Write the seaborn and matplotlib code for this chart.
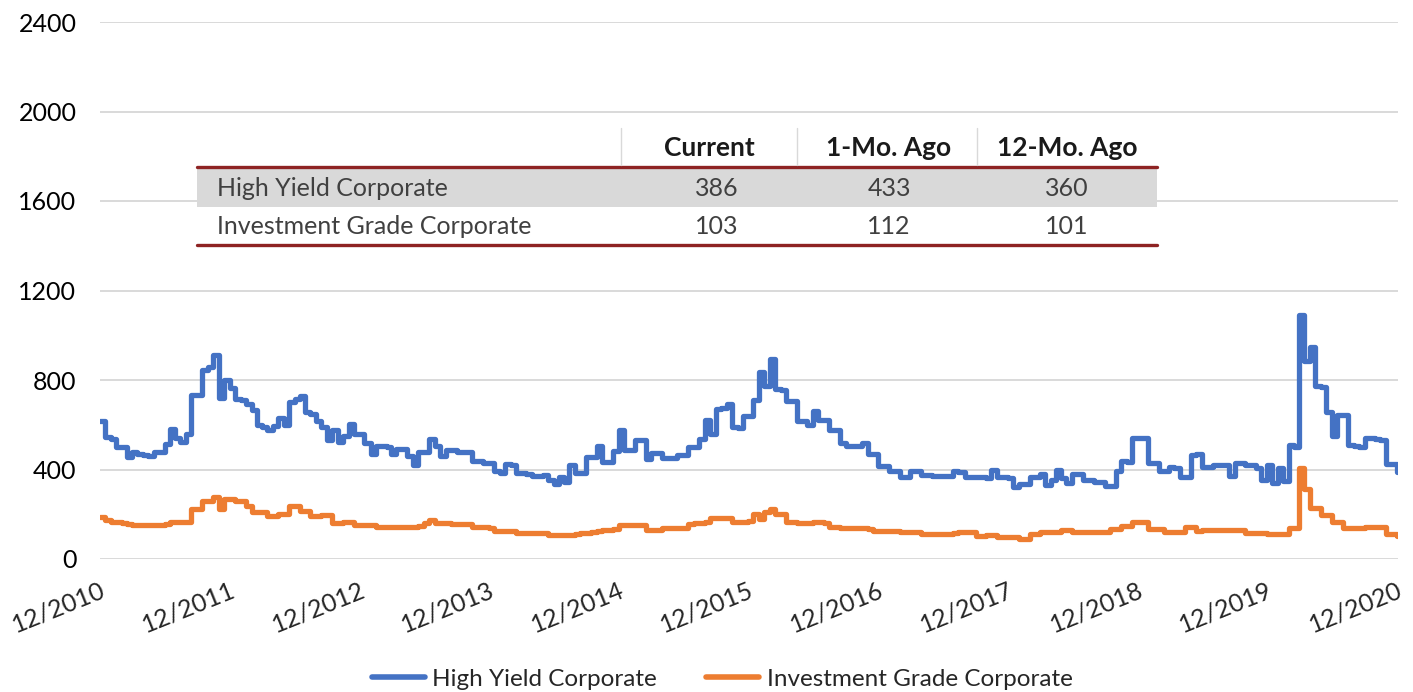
import matplotlib
matplotlib.use("Agg")
import matplotlib.pyplot as plt
from matplotlib.lines import Line2D
from matplotlib.patches import Rectangle
import pandas as pd
import seaborn as sns

high_yield = [
    615, 545, 535, 500, 500, 455, 478, 470, 465, 460, 478, 480,
    515, 580, 540, 525, 560, 735, 731, 845, 860, 910, 720, 800,
    765, 716, 710, 694, 664, 597, 590, 575, 595, 630, 597, 700,
    716, 727, 655, 650, 615, 590, 530, 575, 525, 550, 605, 560,
    560, 520, 470, 503, 503, 500, 470, 492, 490, 460, 420, 478,
    480, 535, 507, 460, 485, 485, 480, 480, 478, 440, 440, 430,
    428, 395, 385, 425, 420, 385, 385, 380, 373, 373, 375, 355,
    336, 365, 345, 420, 385, 385, 455, 455, 505, 435, 435, 482,
    575, 485, 485, 530, 530, 445, 475, 475, 450, 450, 450, 463,
    463, 500, 500, 537, 620, 560, 670, 675, 694, 590, 585, 637,
    640, 710, 836, 772, 895, 760, 755, 705, 705, 615, 615, 600,
    660, 620, 620, 575, 575, 520, 507, 507, 505, 520, 470, 470,
    415, 415, 392, 392, 365, 365, 395, 395, 375, 375, 373, 373,
    370, 370, 395, 390, 365, 365, 365, 365, 360, 400, 365, 365,
    363, 321, 335, 335, 365, 365, 380, 330, 355, 400, 360, 340,
    378, 378, 355, 355, 345, 345, 325, 325, 395, 440, 435, 540,
    540, 540, 430, 430, 395, 395, 410, 405, 365, 365, 465, 470,
    410, 410, 420, 420, 420, 370, 428, 428, 420, 420, 405, 355,
    418, 340, 405, 350, 510, 500, 1090, 885, 949, 775, 770, 658,
    550, 645, 645, 510, 505, 502, 540, 540, 535, 530, 425, 425,
    390,
]
inv_grade = [
    187, 175, 164, 164, 160, 158, 150, 150, 154, 154, 150, 150,
    157, 164, 164, 164, 164, 224, 224, 261, 261, 276, 224, 269,
    269, 261, 261, 239, 209, 209, 209, 194, 194, 201, 201, 239,
    239, 216, 216, 194, 194, 197, 197, 160, 160, 164, 164, 152,
    152, 152, 150, 145, 145, 145, 145, 145, 145, 145, 145, 148,
    160, 175, 160, 160, 160, 157, 157, 157, 157, 142, 142, 142,
    140, 127, 127, 127, 127, 118, 115, 115, 115, 115, 115, 108,
    108, 108, 108, 108, 110, 115, 118, 120, 124, 128, 130, 135,
    150, 152, 152, 152, 150, 130, 130, 130, 138, 138, 138, 138,
    138, 155, 160, 162, 165, 182, 182, 182, 182, 164, 164, 164,
    170, 201, 179, 209, 224, 201, 201, 164, 164, 160, 160, 160,
    164, 164, 160, 142, 142, 138, 138, 138, 138, 138, 132, 127,
    127, 127, 127, 125, 119, 119, 119, 119, 112, 112, 112, 112,
    112, 112, 115, 119, 119, 119, 104, 104, 108, 108, 100, 100,
    100, 100, 90, 90, 112, 112, 119, 119, 119, 119, 130, 130,
    119, 119, 119, 119, 119, 119, 119, 134, 134, 149, 149, 164,
    164, 164, 134, 134, 134, 120, 120, 120, 120, 142, 142, 127,
    130, 130, 130, 130, 128, 128, 128, 128, 115, 115, 115, 115,
    110, 110, 110, 110, 137, 137, 405, 312, 226, 226, 195, 195,
    167, 167, 140, 140, 140, 140, 145, 145, 145, 145, 110, 110,
    103,
]
dates = pd.date_range("2010-12-01", periods=len(high_yield), freq="SMS")

series_names = ["High Yield Corporate", "Investment Grade Corporate"]
series_colors = ["#4472C4", "#ED7D31"]

table_cols = ["Current", "1-Mo. Ago", "12-Mo. Ago"]
table_vals = [[386, 433, 360], [103, 112, 101]]

y_ticks = [0, 400, 800, 1200, 1600, 2000, 2400]
x_years = list(range(2010, 2021))

df = pd.concat([
    pd.DataFrame({"date": dates, "spread": high_yield, "series": series_names[0]}),
    pd.DataFrame({"date": dates, "spread": inv_grade, "series": series_names[1]}),
], ignore_index=True)

sns.set_theme(style="white")
plt.rcParams["font.family"] = ["Lato", "DejaVu Sans"]

W, H = 1413, 692
fig = plt.figure(figsize=(W / 100, H / 100), dpi=100)
ax = fig.add_axes([100 / W, 1 - 559 / H, 1298 / W, 537 / H])

sns.lineplot(data=df, x="date", y="spread", hue="series", palette=series_colors,
             drawstyle="steps-post", linewidth=3.8, ax=ax, legend=False, estimator=None,
             solid_joinstyle="round", solid_capstyle="round")

ax.set_ylim(0, 2400)
ax.set_yticks(y_ticks)
ax.set_yticklabels([str(t) for t in y_ticks], fontsize=18, color="#000000")
xt = [pd.Timestamp(f"{y}-12-01") for y in x_years]
ax.set_xlim(xt[0], xt[-1] + pd.Timedelta(days=3))
ax.set_xticks(xt)
ax.set_xticklabels([f"12/{y}" for y in x_years], fontsize=18, rotation=22,
                   ha="right", va="top", rotation_mode="anchor")
ax.tick_params(axis="both", length=0)
ax.tick_params(axis="y", pad=17)
ax.tick_params(axis="x", pad=14)
ax.grid(axis="y", color="#d9d9d9", linewidth=1.4)
ax.grid(axis="x", visible=False)
ax.set_axisbelow(True)
for s in ax.spines.values():
    s.set_visible(False)
ax.set_xlabel("")
ax.set_ylabel("")


def fx(x):
    return x / W


def fy(y):
    return 1 - y / H


# summary table on top of the plot
tl, tr = 197, 1157
fig.patches.append(Rectangle((fx(tl), fy(247)), fx(tr) - fx(tl), fy(128) - fy(247),
                             transform=fig.transFigure, facecolor="white", edgecolor="none", zorder=5))
fig.patches.append(Rectangle((fx(tl), fy(207)), fx(tr) - fx(tl), fy(168) - fy(207),
                             transform=fig.transFigure, facecolor="#d9d9d9", edgecolor="none", zorder=6))
for yy in (167, 245):
    fig.lines.append(Line2D([fx(tl), fx(tr)], [fy(yy), fy(yy)], transform=fig.transFigure,
                            color="#8e2323", linewidth=2.4, zorder=7))
for xx in (621, 797, 977):
    fig.lines.append(Line2D([fx(xx), fx(xx)], [fy(128), fy(165)], transform=fig.transFigure,
                            color="#d9d9d9", linewidth=1, zorder=7))
col_x = [709, 889, 1067]
for cx, name in zip(col_x, table_cols):
    fig.text(fx(cx), fy(148), name, ha="center", va="center", fontsize=19,
             fontweight="bold", color="#1a1a1a", zorder=8)
for ri, (name, vals) in enumerate(zip(series_names, table_vals)):
    ry = fy(188 + ri * 39)
    fig.text(fx(217), ry, name, ha="left", va="center", fontsize=18, color="#404040", zorder=8)
    for cx, v in zip(col_x, vals):
        fig.text(fx(cx + 8 if cx == col_x[0] else cx), ry, str(v), ha="center", va="center",
                 fontsize=18, color="#404040", zorder=8)

handles = [Line2D([], [], color=c, linewidth=4, solid_capstyle="round") for c in series_colors]
fig.legend(handles, series_names, loc="center", bbox_to_anchor=(fx(722), fy(679)), ncol=2,
           frameon=False, fontsize=17.5, handlelength=2.2, handletextpad=0.3, columnspacing=2.0)

fig.savefig("out.png", dpi=100)
